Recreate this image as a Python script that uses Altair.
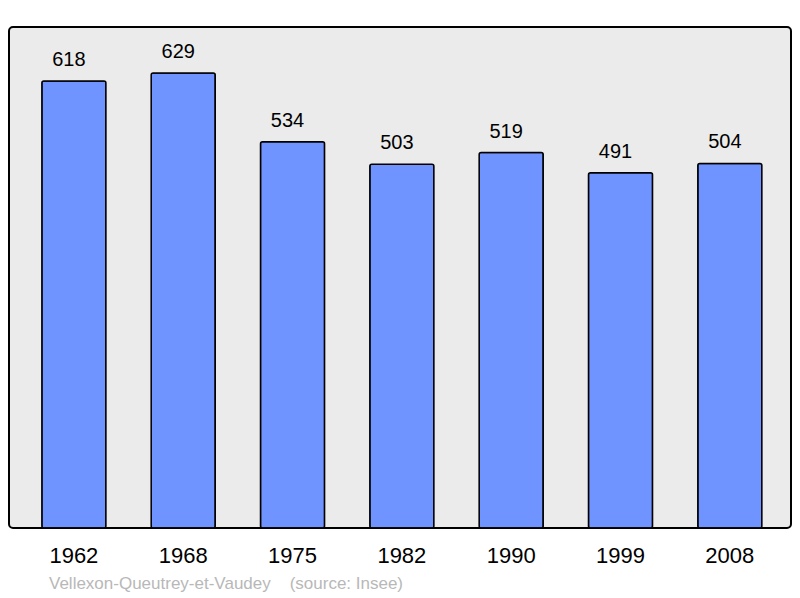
import altair as alt
import pandas as pd

years = ["1962", "1968", "1975", "1982", "1990", "1999", "2008"]
population = [618, 629, 534, 503, 519, 491, 504]

df = pd.DataFrame({"year": years, "pop": population})

FONT = "Liberation Sans"

x = alt.X("year:N", sort=years,
          scale=alt.Scale(paddingInner=0.414, paddingOuter=0.2835, align=0.53),
          axis=alt.Axis(title=None, labelAngle=0, labelFontSize=22, labelFont=FONT,
                        labelColor="#000000", domain=False, ticks=False, labelPadding=17))
y = alt.Y("pop:Q", scale=alt.Scale(domain=[0, 692.6], nice=False, zero=True), axis=None)

bars = alt.Chart(df).mark_bar(color="#7094ff", stroke="#000000", strokeWidth=1.5,
                              cornerRadius=2).encode(x=x, y=y)
labels = alt.Chart(df).mark_text(fontSize=20, font=FONT, color="#000000", dy=-15, dx=-5,
                                 baseline="alphabetic").encode(x=x, y=y, text="pop:Q")

chart = (bars + labels).properties(
    width=782, height=501,
    autosize=alt.AutoSizeParams(type="none"),
    padding={"left": 1, "top": 19, "right": 1, "bottom": 72},
    title=alt.TitleParams(text="Vellexon-Queutrey-et-Vaudey\u00a0\u00a0\u00a0\u00a0(source: Insee)",
                          orient="bottom", anchor="start", fontSize=17, font=FONT,
                          fontWeight="normal", color="#b8b8b8", dx=40, offset=10),
).configure(background="#ffffff").configure_view(
    fill="#ebebeb", stroke="#000000", strokeWidth=2, cornerRadius=4)

chart.save("out.html", embed_options={"renderer": "svg", "actions": False})
